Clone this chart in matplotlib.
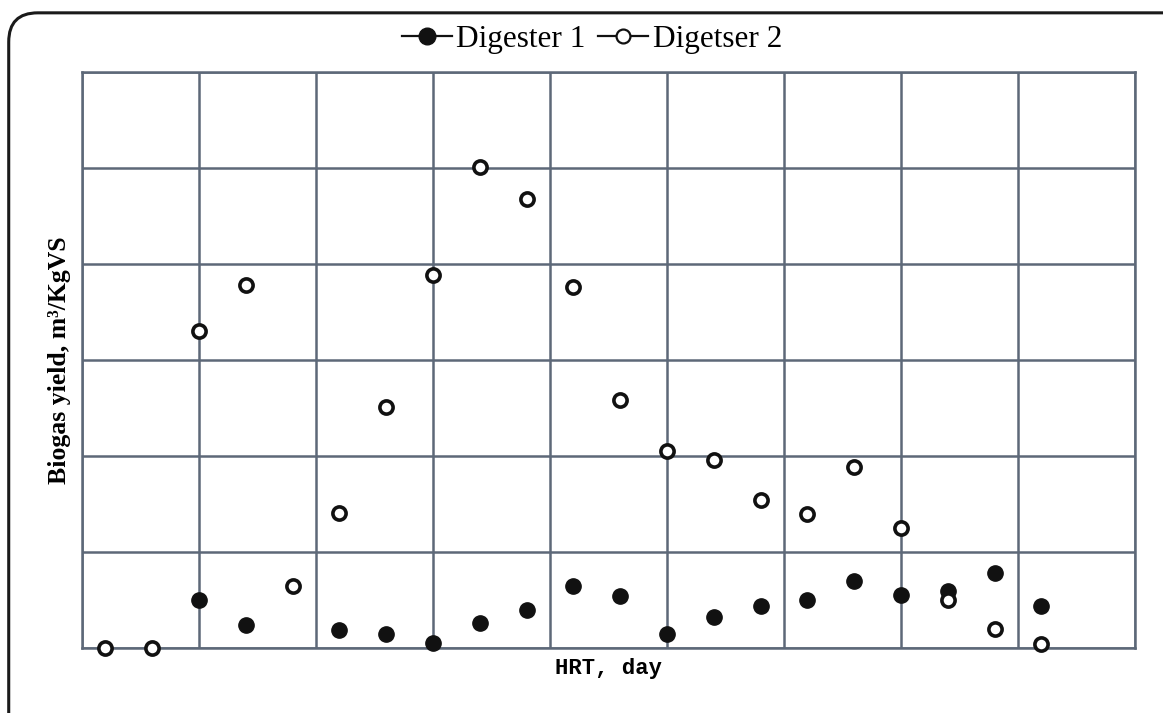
import numpy as np
import matplotlib.pyplot as plt
from matplotlib.patches import FancyBboxPatch
from matplotlib.lines import Line2D

# HRT days and biogas yields
days = np.arange(0, 21)
digester_1 = [np.nan, np.nan, 0.050, 0.024, np.nan, 0.019, 0.015, 0.005, 0.026, 0.040,
              0.065, 0.054, 0.015, 0.032, 0.044, 0.050, 0.070, 0.055, 0.059, 0.078, 0.044]
digester_2 = [0.000, 0.000, 0.330, 0.378, 0.065, 0.141, 0.251, 0.389, 0.501, 0.468,
              0.376, 0.258, 0.205, 0.196, 0.154, 0.140, 0.189, 0.125, 0.050, 0.020, 0.004]
legend_labels = ['Digester 1', 'Digetser 2']

GRID = '#5d6878'

fig = plt.figure(figsize=(11.63, 7.13), dpi=100)
ax = fig.add_axes([0.0705, 0.0912, 0.9054, 0.8078])

# rounded frame around the whole figure
frame = FancyBboxPatch((0.0075, -0.05), 1.05, 1.032, boxstyle='round,pad=0,rounding_size=0.025',
                       transform=fig.transFigure, fill=False, edgecolor='#1a1a1a', linewidth=2.2,
                       mutation_aspect=1163/713)
fig.patches.append(frame)

ax.plot(days, digester_1, linestyle='none', marker='o', markersize=11,
        color='#111111', zorder=3, clip_on=False)
ax.plot(days, digester_2, linestyle='none', marker='o', markersize=9.5,
        markerfacecolor='white', markeredgecolor='#111111', markeredgewidth=2.6,
        zorder=4, clip_on=False)

ax.set_xlim(-0.5, 22)
ax.set_ylim(0, 0.6)
ax.set_xticks(np.arange(-0.5, 22.1, 2.5))
ax.set_yticks(np.arange(0, 0.61, 0.1))
ax.tick_params(length=0, labelleft=False, labelbottom=False)
ax.grid(True, color=GRID, linewidth=1.8)
for s in ax.spines.values():
    s.set_color(GRID)
    s.set_linewidth(1.8)

ax.set_xlabel('HRT, day', family='Liberation Mono', fontweight='bold', fontsize=16, labelpad=7)
ax.set_ylabel('Biogas yield, m³/KgVS', family='Liberation Serif', fontweight='bold',
              fontsize=18.5, labelpad=8)

handles = [
    Line2D([], [], color='#111111', linewidth=1.6, marker='o', markersize=12),
    Line2D([], [], color='#111111', linewidth=1.6, marker='o', markersize=10,
           markerfacecolor='white', markeredgewidth=1.6),
]
fig.legend(handles, legend_labels, loc='center', bbox_to_anchor=(0.509, 0.945), ncol=2,
           frameon=False, prop={'family': 'Liberation Serif', 'size': 22.5},
           handlelength=1.6, handletextpad=0.15, columnspacing=0.4)

fig.savefig('out.png', dpi=100)
